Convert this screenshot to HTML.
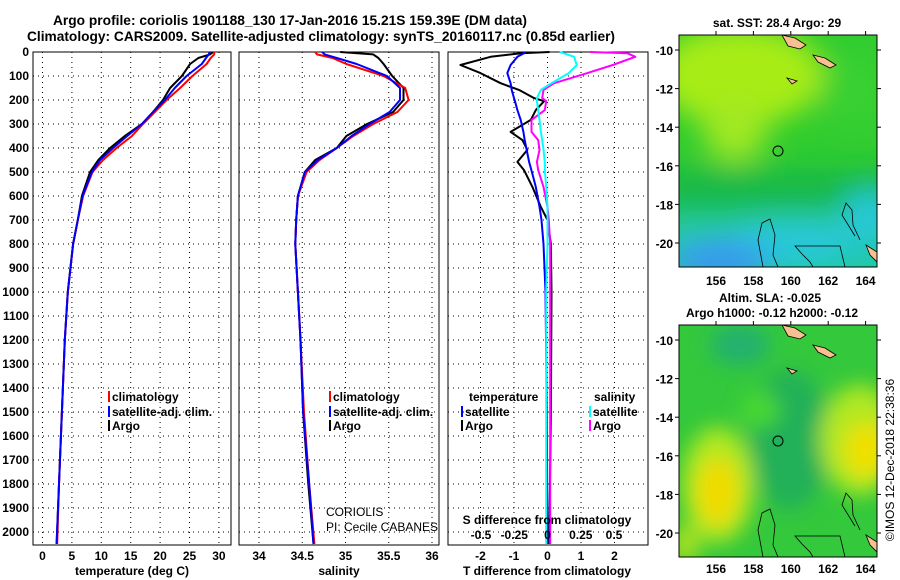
<!DOCTYPE html>
<html><head><meta charset="utf-8">
<style>
html,body{margin:0;padding:0;background:#fff;}
svg{display:block;font-family:"Liberation Sans",sans-serif;}
.b{font-weight:bold;font-size:12px;}
.n{font-weight:normal;font-size:12px;}
</style></head>
<body>
<svg id="chart" width="900" height="580" viewBox="0 0 900 580">
<defs>
  <filter id="blur1" x="-50%" y="-50%" width="200%" height="200%"><feGaussianBlur stdDeviation="14"/></filter>
  <filter id="blur2" x="-50%" y="-50%" width="200%" height="200%"><feGaussianBlur stdDeviation="10"/></filter>
  <clipPath id="clipMap1"><rect x="679" y="35" width="198" height="232"/></clipPath>
  <clipPath id="clipMap2"><rect x="679" y="325" width="198" height="232"/></clipPath>
</defs>
<text x="290" y="25" text-anchor="middle" font-size="14" font-weight="bold" textLength="474" lengthAdjust="spacingAndGlyphs">Argo profile: coriolis 1901188_130 17-Jan-2016 15.21S 159.39E (DM data)</text>
<text x="321" y="41" text-anchor="middle" font-size="14" font-weight="bold" textLength="588" lengthAdjust="spacingAndGlyphs">Climatology: CARS2009. Satellite-adjusted climatology: synTS_20160117.nc (0.85d earlier)</text>
<g id="grids"></g>
<g id="series"></g>
<g id="labels"></g>

<!-- Map 1 SST -->
<g>
<g clip-path="url(#clipMap1)">
  <rect x="679" y="35" width="198" height="232" fill="#30cc30"/>
  <g filter="url(#blur1)">
    <ellipse cx="740" cy="75" rx="85" ry="50" fill="#a8ec18"/>
    <ellipse cx="735" cy="130" rx="32" ry="32" fill="#a0e820"/>
    <ellipse cx="855" cy="90" rx="35" ry="40" fill="#38d030"/>
    <rect x="660" y="170" width="240" height="40" fill="#18b848"/>
    <rect x="660" y="215" width="240" height="70" fill="#20c8b0"/>
    <ellipse cx="790" cy="240" rx="60" ry="25" fill="#28c8d8"/>
    <ellipse cx="870" cy="215" rx="30" ry="25" fill="#28c8d8"/>
    <ellipse cx="720" cy="262" rx="50" ry="22" fill="#3898f0"/>
  </g>
  <g fill="#f8c090" stroke="#000" stroke-width="0.8">
    <path d="M782 35 L795 38 L806 45 L800 49 L788 46 Z"/>
    <path d="M813 55 L825 58 L836 65 L830 68 L818 62 Z"/>
    <path d="M787 78 L797 81 L792 84 Z"/>
    <path d="M866 245 L877 252 L877 262 L870 255 Z"/>
  </g>
  <g fill="none" stroke="#000" stroke-width="0.8">
    <path d="M763 267 L758 240 L762 223 L770 219 L775 235 L773 255 L778 267"/>
    <path d="M845 267 L840 246 L795 246 L802 254 L810 262 L813 267"/>
    <path d="M855 236 L842 215 L846 203 L852 210 L853 225 L860 240"/>
  </g>
  <circle cx="778" cy="151" r="5" fill="none" stroke="#000" stroke-width="1"/>
</g>
<rect x="679" y="35" width="198" height="232" fill="none" stroke="#000" stroke-width="1"/>
<text x="777" y="27" text-anchor="middle" class="b">sat. SST: 28.4 Argo: 29</text>
</g>

<!-- Map 2 SLA -->
<g>
<g clip-path="url(#clipMap2)">
  <rect x="679" y="325" width="198" height="232" fill="#34c83c"/>
  <g filter="url(#blur2)">
    <ellipse cx="790" cy="440" rx="40" ry="70" fill="#20b058"/>
    <ellipse cx="740" cy="345" rx="30" ry="20" fill="#20b070"/>
    <ellipse cx="760" cy="410" rx="20" ry="18" fill="#48d830"/>
    <ellipse cx="718" cy="485" rx="36" ry="58" fill="#b0e820"/>
    <ellipse cx="718" cy="492" rx="22" ry="34" fill="#f0dc00"/>
    <ellipse cx="860" cy="440" rx="40" ry="55" fill="#b0e820"/>
    <ellipse cx="866" cy="450" rx="22" ry="28" fill="#f0e000"/>
    <ellipse cx="685" cy="545" rx="15" ry="20" fill="#a8e020"/>
  </g>
  <g fill="#f8c090" stroke="#000" stroke-width="0.8">
    <path d="M782 325 L795 328 L806 335 L800 339 L788 336 Z"/>
    <path d="M813 345 L825 348 L836 355 L830 358 L818 352 Z"/>
    <path d="M787 368 L797 371 L792 374 Z"/>
    <path d="M866 535 L877 542 L877 552 L870 545 Z"/>
  </g>
  <g fill="none" stroke="#000" stroke-width="0.8">
    <path d="M763 557 L758 530 L762 513 L770 509 L775 525 L773 545 L778 557"/>
    <path d="M845 557 L840 536 L795 536 L802 544 L810 552 L813 557"/>
    <path d="M855 526 L842 505 L846 493 L852 500 L853 515 L860 530"/>
  </g>
  <circle cx="778" cy="441" r="5" fill="none" stroke="#000" stroke-width="1"/>
</g>
<rect x="679" y="325" width="198" height="232" fill="none" stroke="#000" stroke-width="1"/>
<text x="770" y="302" text-anchor="middle" class="b">Altim. SLA: -0.025</text>
<text x="772" y="317" text-anchor="middle" class="b">Argo h1000: -0.12 h2000: -0.12</text>
</g>
<g id="maplabels"></g>
<text transform="translate(894,460) rotate(-90)" text-anchor="middle" font-size="12">©IMOS 12-Dec-2018 22:38:36</text>
</svg>
<script>
// ---- data ----
const depths = [0,10,25,50,100,150,200,250,300,350,400,450,500,600,700,800,1000,1200,1500,1800,2050];
const tempArgo = [29.0,28.5,26.5,25.1,23.7,21.7,20.5,18.8,16.9,14.0,11.5,9.5,8.1,6.7,6.0,5.2,4.3,3.8,3.3,2.8,2.4];
const tempClim = [29.2,29.2,28.6,27.9,25.5,23.4,21.1,19.1,17.1,15.2,12.6,10.3,8.5,6.9,6.0,5.2,4.3,3.8,3.3,2.8,2.5];
const tempSat  = [28.4,28.3,27.8,27.1,24.5,22.5,20.8,18.8,16.9,14.4,12.0,9.8,8.4,6.8,6.0,5.2,4.3,3.8,3.3,2.8,2.4];
const salArgo = [34.94,35.32,35.38,35.44,35.54,35.67,35.67,35.55,35.25,35.01,34.90,34.65,34.53,34.45,34.43,34.42,34.45,34.48,34.51,34.57,34.63];
const salClim = [34.65,34.67,34.85,35.01,35.44,35.69,35.73,35.60,35.32,35.09,34.90,34.70,34.55,34.45,34.43,34.42,34.45,34.48,34.52,34.58,34.64];
const salSat  = [34.73,34.76,34.90,35.13,35.48,35.63,35.63,35.51,35.28,35.07,34.90,34.68,34.53,34.45,34.43,34.42,34.45,34.48,34.51,34.58,34.63];
const diffDepths = [0,5,20,54,88,130,158,192,205,242,283,333,367,408,458,492,562,645,700,800,1000,1500,2050];
const tDiffArgo = [0.06,-0.8,-1.7,-2.6,-2.0,-1.4,-0.85,-0.4,-0.1,-0.35,-0.5,-1.1,-0.75,-0.6,-0.9,-0.7,-0.45,-0.2,0,0.1,0.12,0.1,0.05];
const tDiffSat  = [-0.65,-0.7,-0.9,-1.1,-1.2,-1.1,-1.07,-1.0,-0.97,-0.9,-0.8,-0.72,-0.68,-0.62,-0.55,-0.48,-0.35,-0.24,-0.18,-0.12,-0.06,-0.02,0];
const sDiffSat  = [0.09,0.12,0.2,0.22,0.16,0.03,-0.05,-0.08,-0.08,-0.07,-0.06,-0.05,-0.04,-0.03,-0.02,-0.02,-0.01,0,0,0,-0.01,-0.01,-0.01];
const sDiffArgo = [0.32,0.6,0.66,0.49,0.3,0.05,-0.03,-0.04,-0.01,-0.02,-0.12,-0.12,-0.07,-0.06,-0.08,-0.07,-0.03,0,0.01,0.02,0.02,0.02,0.02];
const depthTicks = [0,100,200,300,400,500,600,700,800,900,1000,1100,1200,1300,1400,1500,1600,1700,1800,1900,2000];
const tempTicks = [0,5,10,15,20,25,30];
const salTicks = [34,34.5,35,35.5,36];
const tdTicks = [-2,-1,0,1,2];
const sdTicks = [-0.5,-0.25,0,0.25,0.5];
const sdTickLabels = ["-0.5","-0.25","0","0.25","0.5"];
const lonTicks = [156,158,160,162,164];
const latTicks = [-10,-12,-14,-16,-18,-20];

// ---- scales ----
const NS='http://www.w3.org/2000/svg';
const TOP=52, BOT=545;
const yD = d => TOP + d*0.24;
const xT = t => 42.5 + t*5.88;
const xS = s => 259 + (s-34)*86.5;
const xTD = v => 547.5 + v*33.5;
const xSD = v => 547.5 + v*133;
const panels = [{x0:33,x1:231},{x0:239,x1:439},{x0:448,x1:648}];
function mk(tag, attrs, parent){const e=document.createElementNS(NS,tag);for(const k in attrs)e.setAttribute(k,attrs[k]);parent.appendChild(e);return e;}
const G=document.getElementById('grids'), S=document.getElementById('series'), L=document.getElementById('labels'), ML=document.getElementById('maplabels');

const vgrid=[tempTicks.map(xT), salTicks.map(xS), tdTicks.map(xTD)];
panels.forEach((p,i)=>{
  depthTicks.forEach(d=>{ if(d>0){
    const l=mk('line',{x1:p.x0,x2:p.x1,y1:yD(d),y2:yD(d),stroke:'#000','stroke-width':1,'stroke-dasharray':'1,4'},G);
    
    
  }});
  vgrid[i].forEach(x=>{ if(x>p.x0+1 && x<p.x1-1){
    const l=mk('line',{x1:x,x2:x,y1:TOP,y2:BOT,stroke:'#000','stroke-width':1,'stroke-dasharray':'1,4'},G);
    
    
  }});
  const r=mk('rect',{x:p.x0,y:TOP,width:p.x1-p.x0,height:BOT-TOP,fill:'none',stroke:'#000','stroke-width':1},G);
  
  
});

function line(xs, ds, fx, color, name){
  const pts=xs.map((v,i)=>fx(v).toFixed(1)+','+yD(ds[i]).toFixed(1)).join(' ');
  const e=mk('polyline',{points:pts,fill:'none',stroke:color,'stroke-width':2,'stroke-linejoin':'round'},S);
  
  
}
line(tempArgo,depths,xT,'#000','temp-argo-line');
line(tempClim,depths,xT,'#f00','temp-climatology-line');
line(tempSat,depths,xT,'#00f','temp-satellite-line');
line(salArgo,depths,xS,'#000','salinity-argo-line');
line(salClim,depths,xS,'#f00','salinity-climatology-line');
line(salSat,depths,xS,'#00f','salinity-satellite-line');
line(tDiffArgo,diffDepths,xTD,'#000','tdiff-argo-line');
line(tDiffSat,diffDepths,xTD,'#00f','tdiff-satellite-line');
line(sDiffArgo,diffDepths,xSD,'#f0f','sdiff-argo-line');
line(sDiffSat,diffDepths,xSD,'#0ff','sdiff-satellite-line');

function txt(x,y,s,anchor,name,cls){
  const e=mk('text',{x:x,y:y,'text-anchor':anchor||'start',class:cls||'b'},L);
  e.textContent=s;
  
  
  return e;
}
depthTicks.forEach(d=>txt(29,yD(d)+4,String(d),'end','depth-tick-label'));
tempTicks.forEach(t=>txt(xT(t),560,String(t),'middle','temp-tick-label'));
salTicks.forEach(s=>txt(xS(s),560,String(s),'middle','salinity-tick-label'));
tdTicks.forEach(v=>txt(xTD(v),560,String(v),'middle','tdiff-tick-label'));
sdTicks.forEach((v,i)=>txt(xSD(v),539,sdTickLabels[i],'middle','sdiff-tick-label'));
txt(132,575,'temperature (deg C)','middle','temp-axis-title');
txt(339,575,'salinity','middle','salinity-axis-title');
txt(547,575,'T difference from climatology','middle','tdiff-axis-title');
txt(547,524,'S difference from climatology','middle','sdiff-axis-title');
txt(326,516,'CORIOLIS','start','operator-label','n');
txt(326,531,'PI: Cecile CABANES','start','pi-label','n');

function leg(x,y,color,label,name){
  const m=mk('rect',{x:x,y:y-10,width:2,height:11,fill:color},L);
  
  
  txt(x+4,y,label,'start',name);
}
leg(108,401,'#f00','climatology','legend-climatology');
leg(108,416,'#00f','satellite-adj. clim.','legend-satellite');
leg(108,430,'#000','Argo','legend-argo');
leg(329,401,'#f00','climatology','legend2-climatology');
leg(329,416,'#00f','satellite-adj. clim.','legend2-satellite');
leg(329,430,'#000','Argo','legend2-argo');
txt(469,401,'temperature','start','legend3-temperature-header');
leg(461,416,'#00f','satellite','legend3-t-satellite');
leg(461,430,'#000','Argo','legend3-t-argo');
txt(594,401,'salinity','start','legend3-salinity-header');
leg(589,416,'#0ff','satellite','legend3-s-satellite');
leg(589,430,'#f0f','Argo','legend3-s-argo');

// map axes
const mLon = v => 716 + (v-156)*18.7;
[{top:35,lat10:50,lab:285},{top:325,lat10:340,lab:573}].forEach((m,mi)=>{
  lonTicks.forEach(v=>{
    const e=mk('text',{x:mLon(v),y:m.lab,'text-anchor':'middle',class:'b'},ML);
    e.textContent=String(v);
    
    
    const t=mk('line',{x1:mLon(v),x2:mLon(v),y1:m.top-4,y2:m.top,stroke:'#000'},ML);
    
    
  });
  latTicks.forEach(v=>{
    const y=m.lat10 + (-10-v)*19.3;
    const e=mk('text',{x:673,y:y+5,'text-anchor':'end',class:'b'},ML);
    e.textContent=String(v);
    
    
    const t=mk('line',{x1:675,x2:679,y1:y,y2:y,stroke:'#000'},ML);
    
    
    const t2=mk('line',{x1:877,x2:881,y1:y,y2:y,stroke:'#000'},ML);
    
    
  });
});
</script>
</body></html>
